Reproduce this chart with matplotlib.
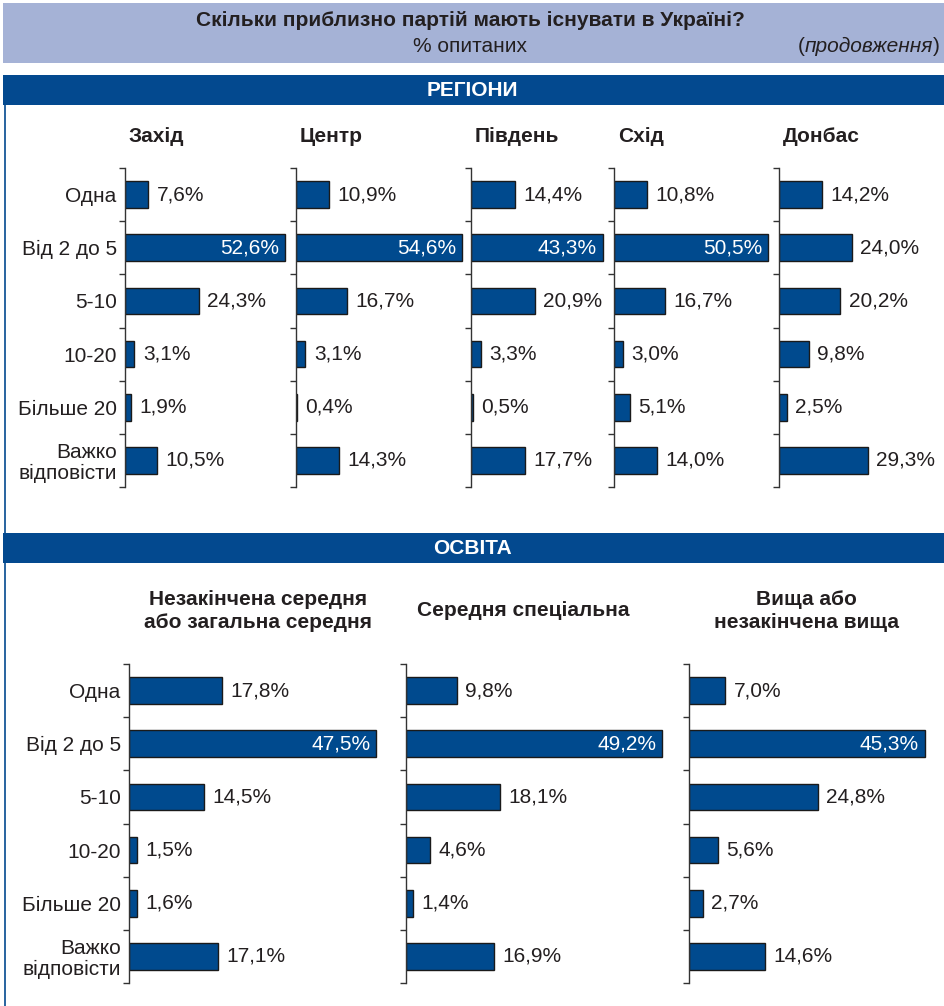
import numpy as np
import matplotlib
matplotlib.use("Agg")
import matplotlib.pyplot as plt
from matplotlib.patches import Rectangle
from matplotlib.lines import Line2D

plt.rcParams['font.family'] = ['Liberation Sans', 'DejaVu Sans']

W, H = 944, 1006

# Дані
categories = ["Одна", "Від 2 до 5", "5-10", "10-20", "Більше 20", "Важко\nвідповісти"]

region_names = ["Захід", "Центр", "Південь", "Схід", "Донбас"]
zakhid = [7.6, 52.6, 24.3, 3.1, 1.9, 10.5]
tsentr = [10.9, 54.6, 16.7, 3.1, 0.4, 14.3]
pivden = [14.4, 43.3, 20.9, 3.3, 0.5, 17.7]
skhid = [10.8, 50.5, 16.7, 3.0, 5.1, 14.0]
donbas = [14.2, 24.0, 20.2, 9.8, 2.5, 29.3]
region_values = [zakhid, tsentr, pivden, skhid, donbas]

edu_names = ["Незакінчена середня\nабо загальна середня", "Середня спеціальна", "Вища або\nнезакінчена вища"]
edu_nepovna = [17.8, 47.5, 14.5, 1.5, 1.6, 17.1]
edu_spets = [9.8, 49.2, 18.1, 4.6, 1.4, 16.9]
edu_vyshcha = [7.0, 45.3, 24.8, 5.6, 2.7, 14.6]
edu_values = [edu_nepovna, edu_spets, edu_vyshcha]

BAR = "#004a8e"
BAND = "#03498f"
LIGHT = "#a5b2d6"
TXT = "#231f20"


def box(x, y, w, h):
    return [x / W, 1 - (y + h) / H, w / W, h / H]


def rect(fig, x, y, w, h, color):
    fig.add_artist(Rectangle((x / W, 1 - (y + h) / H), w / W, h / H,
                             transform=fig.transFigure, facecolor=color,
                             edgecolor="none", zorder=0))


def vline(fig, x, y0, y1):
    fig.add_artist(Line2D([x / W, x / W], [1 - y0 / H, 1 - y1 / H],
                          transform=fig.transFigure, color=BAND, lw=1.2))


def panel(fig, x, y, w, h, vals, xmax, show_labels):
    ax = fig.add_axes(box(x, y, w, h))
    ax.patch.set_alpha(0)
    pos = np.arange(len(vals))
    ax.barh(pos, vals, height=0.5, color=BAR, edgecolor="#1a1a1a", linewidth=1.0)
    ax.set_xlim(0, xmax)
    ax.set_ylim(len(vals) - 0.5, -0.5)
    ax.set_xticks([])
    ax.set_yticks(np.arange(-0.5, len(vals), 1))
    ax.set_yticklabels([])
    ax.tick_params(axis="y", which="major", length=4, width=1, color="#333333", direction="out")
    ax.set_yticks(pos, minor=True)
    if show_labels:
        ax.set_yticklabels(categories, minor=True, fontsize=15, color=TXT, linespacing=1.1)
    else:
        ax.set_yticklabels([], minor=True)
    ax.tick_params(axis="y", which="minor", length=0, pad=6)
    for s in ["top", "right", "bottom"]:
        ax.spines[s].set_visible(False)
    ax.spines["left"].set_color("#333333")
    ax.spines["left"].set_linewidth(1.0)
    for i, v in enumerate(vals):
        lab = f"{v:.1f}%".replace(".", ",")
        if v > 40:
            ax.annotate(lab, (v, i), xytext=(-4, 0), textcoords="offset points",
                        ha="right", va="center", color="white", fontsize=15)
        else:
            ax.annotate(lab, (v, i), xytext=(6, 0), textcoords="offset points",
                        ha="left", va="center", color=TXT, fontsize=15)
    return ax


fig = plt.figure(figsize=(W / 100, H / 100), dpi=100)
fig.patch.set_facecolor("white")
renderer = fig.canvas.get_renderer()

# Заголовок
rect(fig, 3, 3, 941, 60, LIGHT)
fig.text(470 / W, 1 - 21 / H, "Скільки приблизно партій мають існувати в Україні?",
         ha="center", va="center", fontsize=15, fontweight="bold", color=TXT)
fig.text(470 / W, 1 - 46 / H, "% опитаних", ha="center", va="center", fontsize=15, color=TXT)

# (продовження) - дужки прямі, слово курсивом
xr = 940
p2 = fig.text(xr / W, 1 - 46 / H, ")", ha="right", va="center", fontsize=15, color=TXT)
xr -= p2.get_window_extent(renderer).width
pw = fig.text(xr / W, 1 - 46 / H, "продовження", ha="right", va="center", fontsize=15,
              color=TXT, style="italic")
xr -= pw.get_window_extent(renderer).width
fig.text(xr / W, 1 - 46 / H, "(", ha="right", va="center", fontsize=15, color=TXT)

# Регіони
rect(fig, 3, 75, 941, 30, BAND)
fig.text(472 / W, 1 - 90 / H, "РЕГІОНИ", ha="center", va="center", fontsize=15,
         fontweight="bold", color="white")
vline(fig, 5, 105, 533)

region_x = [125, 296, 471, 614, 779]
sc = 3.04
for i, (name, vals) in enumerate(zip(region_names, region_values)):
    x0 = region_x[i]
    panel(fig, x0, 168, 56 * sc, 319, vals, 56, i == 0)
    fig.text((x0 + 4) / W, 1 - 137 / H, name, ha="left", va="center", fontsize=15,
             fontweight="bold", color=TXT)

# Освіта
rect(fig, 3, 533, 941, 30, BAND)
fig.text(472 / W, 1 - 548 / H, "ОСВІТА", ha="center", va="center", fontsize=15,
         fontweight="bold", color="white")
vline(fig, 5, 563, 1006)

edu_x = [129, 406, 689]
edu_cx = [258, 523, 806]
sc2 = 5.2
for i, (name, vals) in enumerate(zip(edu_names, edu_values)):
    panel(fig, edu_x[i], 664, 50 * sc2, 319, vals, 50, i == 0)
    fig.text(edu_cx[i] / W, 1 - 611 / H, name, ha="center", va="center", fontsize=15,
             fontweight="bold", color=TXT, linespacing=1.25)

fig.savefig("out.png", dpi=100)
